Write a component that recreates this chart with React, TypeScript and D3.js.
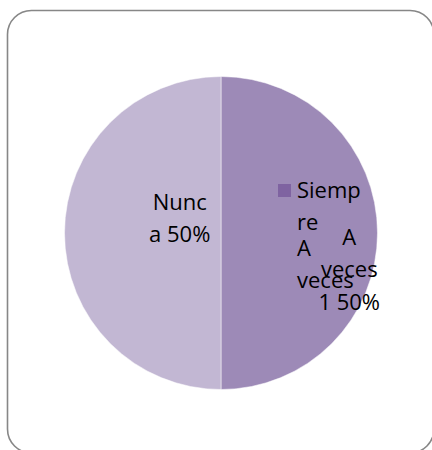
import React from "react";
import * as d3 from "d3";

const categories = ["Siempre", "A veces", "Nunca"];
const values = [0, 1, 1];
const colors = ["#7F63A1", "#9D8AB7", "#C2B7D3"];
// data label text lines per category (as wrapped in the original)
const labelLines: string[][] = [[], ["A", "veces", "1 50%"], ["Nunc", "a 50%"]];
// legend text lines per category (wrapped)
const legendLines: string[][] = [["Siemp", "re"], ["A", "veces"]];

const W = 432;
const H = 450;
const cx = 221;
const cy = 233;
const R = 156.5;
const FONT = "'Open Sans', sans-serif";
const FS = 22;
const LH = 32.5;

export default function App() {
  const pie = d3
    .pie<number>()
    .sort(null)
    .startAngle(0)
    .endAngle(2 * Math.PI)(values);
  const arc = d3.arc<d3.PieArcDatum<number>>().innerRadius(0).outerRadius(R);

  // label centers relative to centroid (layout tweaks to match the reference)
  const labelOffsets: [number, number][] = [
    [0, 0],
    [50, 44],
    [37, -7],
  ];

  return (
    <svg
      width={W}
      height={H}
      style={{ position: "absolute", left: 0, top: 0, overflow: "hidden" }}
    >
      <rect x={0} y={0} width={W} height={H} fill="#fff" />
      <rect
        x={7.5}
        y={10.5}
        width={426.5}
        height={442.5}
        rx={24}
        ry={24}
        fill="#fff"
        stroke="#878787"
        strokeWidth={1.6}
      />
      <g transform={`translate(${cx},${cy})`}>
        {pie.map((d, i) =>
          d.value > 0 ? (
            <path key={i} d={arc(d) || ""} fill={colors[i]} stroke="#fff" strokeWidth={0.5} />
          ) : null
        )}
      </g>
      {pie.map((d, i) => {
        if (d.value <= 0) return null;
        const [x0, y0] = arc.centroid(d);
        const lines = labelLines[i];
        const x = cx + x0 + labelOffsets[i][0];
        const yc = cy + y0 + labelOffsets[i][1];
        const yFirst = yc - ((lines.length - 1) * LH) / 2;
        return (
          <text
            key={"l" + i}
            x={x}
            y={yFirst}
            textAnchor="middle"
            fontFamily={FONT}
            fontSize={FS}
            fill="#000"
          >
            {lines.map((t, j) => (
              <tspan key={j} x={x} y={yFirst + j * LH}>
                {t}
              </tspan>
            ))}
          </text>
        );
      })}
      {legendLines.map((lines, i) => {
        const baseY = 198 + i * 58;
        return (
          <g key={"g" + i}>
            <rect x={278} y={baseY - 14} width={13} height={13} fill={colors[i]} />
            <text x={297} y={baseY} fontFamily={FONT} fontSize={FS} fill="#000">
              {lines.map((t, j) => (
                <tspan key={j} x={297} y={baseY + j * 32}>
                  {t}
                </tspan>
              ))}
            </text>
          </g>
        );
      })}
    </svg>
  );
}
